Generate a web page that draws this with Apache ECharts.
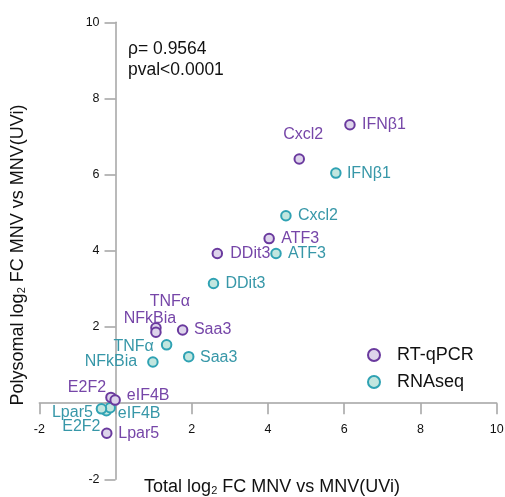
<!DOCTYPE html>
<html>
<head>
<meta charset="utf-8">
<script src="https://cdn.jsdelivr.net/npm/echarts@6/dist/echarts.min.js"></script>
<style>
  html, body { margin: 0; padding: 0; background: #fff; }
  #chart { width: 505px; height: 497px; }
</style>
</head>
<body>
<div id="chart"></div>
<script>
// Genes compared between total and polysomal fold changes
const genes = ['IFNβ1', 'Cxcl2', 'ATF3', 'DDit3', 'Saa3', 'TNFα', 'NFkBia', 'E2F2', 'eIF4B', 'Lpar5'];

// RT-qPCR: total log2 FC and polysomal log2 FC
const qpcrTotal      = [6.15, 4.82, 4.03, 2.67, 1.76, 1.06, 1.06, -0.12, -0.01, -0.23];
const qpcrPolysomal  = [7.31, 6.41, 4.32, 3.93, 1.92, 1.98, 1.86,  0.15,  0.08, -0.79];

// RNAseq: total log2 FC and polysomal log2 FC
const seqTotal       = [5.78, 4.47, 4.21, 2.57, 1.92, 1.34, 0.98, -0.24, -0.14, -0.37];
const seqPolysomal   = [6.04, 4.92, 3.93, 3.14, 1.22, 1.53, 1.08, -0.20, -0.12, -0.15];

// Axis ranges and tick step
const axisMin = -2, axisMax = 10, axisStep = 2;

// Statistics shown in the corner
const statLines = ['ρ= 0.9564', 'pval<0.0001'];

// Label placement (pixel offsets of each label centre from its marker)
const qpcrLabelOffset = {
  'IFNβ1': [34, 0], 'Cxcl2': [4, -24], 'ATF3': [31, 0], 'DDit3': [33, 0], 'Saa3': [30, 0],
  'TNFα': [14, -26], 'NFkBia': [-6, -14], 'E2F2': [-24, -10], 'eIF4B': [33, -4], 'Lpar5': [32, 0]
};
const seqLabelOffset = {
  'IFNβ1': [33, 0], 'Cxcl2': [32, 0], 'ATF3': [31, 0], 'DDit3': [32, 0], 'Saa3': [30, 1],
  'TNFα': [-33, 2], 'NFkBia': [-42, 0], 'E2F2': [-25, 16], 'eIF4B': [29, 6], 'Lpar5': [-29, 4]
};

const FONT = '"Liberation Sans", Arial, sans-serif';
const PURPLE = '#6a3a9e', PURPLE_FILL = '#ddd4eb', PURPLE_TEXT = '#7646a8';
const TEAL = '#2fa2b3', TEAL_FILL = '#c2e6df', TEAL_TEXT = '#3797a8';
const AXIS_GRAY = '#a3a3a3';

// Plot area
const W = 505, H = 497;
const gridBox = { left: 39.3, right: 8.3, top: 22.3, bottom: 17.7 };
const plotW = W - gridBox.left - gridBox.right;
const plotH = H - gridBox.top - gridBox.bottom;
// Axes cross at the origin: shift each axis inward by the pixel distance of zero from the edge
const zeroShiftX = -((0 - axisMin) / (axisMax - axisMin)) * plotH; // x axis moves up
const zeroShiftY = -((0 - axisMin) / (axisMax - axisMin)) * plotW; // y axis moves right

function buildPoints(xs, ys, offsets, textColor) {
  return genes.map((g, i) => ({
    name: g,
    value: [xs[i], ys[i]],
    label: {
      show: true,
      position: 'inside',
      offset: offsets[g],
      formatter: g,
      color: textColor,
      fontSize: 16,
      fontFamily: FONT,
      textBorderWidth: 0
    }
  }));
}

const tickFormatter = v => (v === 0 ? '' : String(v));

function axis(shift, margin) {
  return {
    type: 'value',
    min: axisMin,
    max: axisMax,
    interval: axisStep,
    offset: shift,
    splitLine: { show: false },
    axisLine: { show: true, onZero: false, lineStyle: { color: AXIS_GRAY, width: 1.5 } },
    axisTick: { show: true, inside: false, length: 11, lineStyle: { color: AXIS_GRAY, width: 1.5 } },
    axisLabel: { formatter: tickFormatter, color: '#111', fontSize: 12.5, fontFamily: FONT, margin: margin }
  };
}

const chart = echarts.init(document.getElementById('chart'), null, { renderer: 'canvas' });

chart.setOption({
  animation: false,
  backgroundColor: '#fff',
  grid: Object.assign({ containLabel: false, outerBoundsMode: 'none' }, gridBox),
  xAxis: axis(zeroShiftX, 20),
  yAxis: axis(zeroShiftY, 16),
  legend: {
    orient: 'vertical',
    left: 367,
    top: 346,
    padding: 0,
    itemWidth: 36,
    itemHeight: 12,
    itemGap: 9,
    icon: 'circle',
    textStyle: { fontSize: 18, color: '#111', fontFamily: FONT },
    data: ['RT-qPCR', 'RNAseq']
  },
  series: [
    {
      name: 'RT-qPCR',
      type: 'scatter',
      symbol: 'circle',
      symbolSize: 9.5,
      itemStyle: { color: PURPLE_FILL, borderColor: PURPLE, borderWidth: 2, opacity: 1 },
      data: buildPoints(qpcrTotal, qpcrPolysomal, qpcrLabelOffset, PURPLE_TEXT),
      z: 3
    },
    {
      name: 'RNAseq',
      type: 'scatter',
      symbol: 'circle',
      symbolSize: 9.5,
      itemStyle: { color: TEAL_FILL, borderColor: TEAL, borderWidth: 2, opacity: 1 },
      data: buildPoints(seqTotal, seqPolysomal, seqLabelOffset, TEAL_TEXT),
      z: 2
    }
  ],
  graphic: [
    {
      type: 'text',
      x: 18, y: 255,
      rotation: Math.PI / 2,
      style: {
        text: 'Polysomal log{s|2} FC MNV vs MNV(UVi)',
        font: '18px ' + FONT,
        fill: '#111',
        align: 'center',
        verticalAlign: 'middle',
        lineHeight: 18,
        rich: { s: { fontSize: 11, fontFamily: FONT, lineHeight: 8, verticalAlign: 'bottom', fill: '#111' } }
      }
    },
    {
      type: 'text',
      x: 272, y: 487,
      style: {
        text: 'Total log{s|2} FC MNV vs MNV(UVi)',
        font: '18px ' + FONT,
        fill: '#111',
        align: 'center',
        verticalAlign: 'middle',
        lineHeight: 18,
        rich: { s: { fontSize: 11, fontFamily: FONT, lineHeight: 8, verticalAlign: 'bottom', fill: '#111' } }
      }
    },
    {
      type: 'text',
      x: 128, y: 38.5,
      style: {
        text: statLines.join('\n'),
        font: '17.5px ' + FONT,
        lineHeight: 21,
        fill: '#111',
        align: 'left',
        verticalAlign: 'top'
      }
    }
  ]
});
</script>
</body>
</html>
